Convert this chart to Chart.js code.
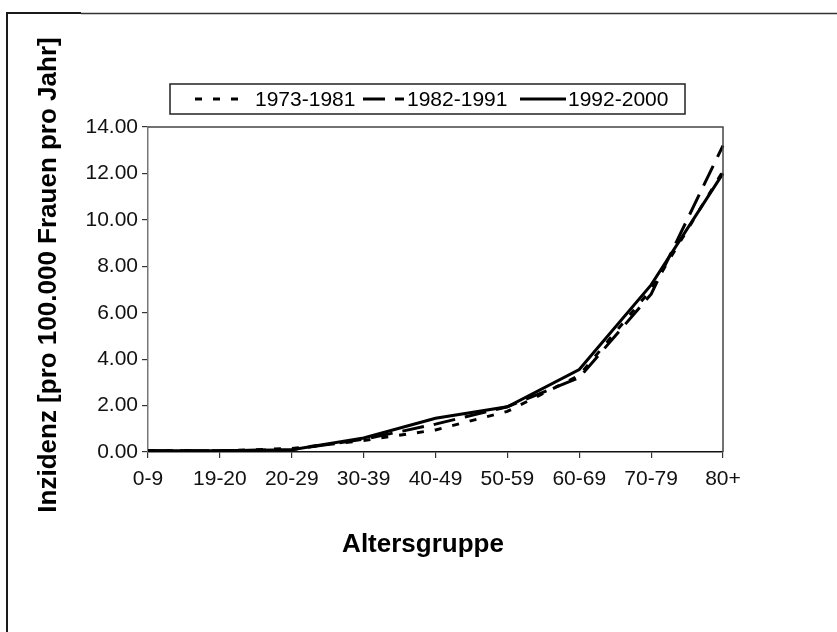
<!DOCTYPE html>
<html>
<head>
<meta charset="utf-8">
<script src="https://cdn.jsdelivr.net/npm/chart.js@4.4.0/dist/chart.umd.min.js"></script>
<style>
  html, body { margin: 0; padding: 0; background: #fff; }
  #wrap { width: 837px; height: 632px; position: relative; }
</style>
</head>
<body>
<div id="wrap"><canvas id="c" width="837" height="632"></canvas></div>
<script>
const categories = ['0-9', '19-20', '20-29', '30-39', '40-49', '50-59', '60-69', '70-79', '80+'];
const series1973 = [0.05, 0.05, 0.15, 0.5, 0.95, 1.75, 3.3, 7.0, 12.1];
const series1982 = [0.05, 0.05, 0.1, 0.55, 1.2, 1.95, 3.2, 6.8, 13.2];
const series1992 = [0.05, 0.05, 0.1, 0.6, 1.45, 1.95, 3.55, 7.2, 12.0];
const seriesLabels = ['1973-1981', '1982-1991', '1992-2000'];
const yTickLabels = ['0.00', '2.00', '4.00', '6.00', '8.00', '10.00', '12.00', '14.00'];
const xTitle = 'Altersgruppe';
const yTitle = 'Inzidenz [pro 100.000 Frauen pro Jahr]';

const FONT = "'Liberation Sans', Arial, sans-serif";

const decorPlugin = {
  id: 'decor',
  afterDraw(chart) {
    const ctx = chart.ctx;
    const a = chart.chartArea;
    ctx.save();
    // outer frame (left + top)
    ctx.strokeStyle = '#1a1a1a';
    ctx.lineWidth = 2;
    ctx.beginPath();
    ctx.moveTo(7, 632);
    ctx.lineTo(7, 13);
    ctx.lineTo(81, 13);
    ctx.stroke();
    ctx.lineWidth = 1.6;
    ctx.strokeStyle = '#333';
    ctx.beginPath();
    ctx.moveTo(81, 13.5);
    ctx.lineTo(837, 13.5);
    ctx.stroke();

    // plot frame top + right
    ctx.strokeStyle = '#444';
    ctx.lineWidth = 1.5;
    ctx.beginPath();
    ctx.moveTo(a.left, a.top);
    ctx.lineTo(a.right, a.top);
    ctx.lineTo(a.right, a.bottom);
    ctx.stroke();

    // legend
    ctx.strokeStyle = '#222';
    ctx.lineWidth = 1.5;
    ctx.strokeRect(170, 84, 515, 30);
    const items = [
      { s0: 195, s1: 243, tx: 255 },
      { s0: 363, s1: 404, tx: 407 },
      { s0: 520, s1: 566, tx: 568 }
    ];
    ctx.font = '21px ' + FONT;
    ctx.textBaseline = 'middle';
    ctx.textAlign = 'left';
    chart.data.datasets.forEach((ds, i) => {
      const it = items[i];
      ctx.save();
      ctx.strokeStyle = ds.borderColor;
      ctx.lineWidth = 3;
      ctx.setLineDash(ds.borderDash || []);
      ctx.beginPath();
      ctx.moveTo(it.s0, 99);
      ctx.lineTo(it.s1, 99);
      ctx.stroke();
      ctx.restore();
      ctx.fillStyle = '#000';
      ctx.fillText(ds.label, it.tx, 100);
    });

    // axis titles
    ctx.fillStyle = '#000';
    ctx.font = 'bold 26px ' + FONT;
    ctx.textAlign = 'center';
    ctx.textBaseline = 'alphabetic';
    ctx.fillText(xTitle, 423, 552);
    ctx.save();
    ctx.translate(56, 275);
    ctx.rotate(-Math.PI / 2);
    ctx.fillText(yTitle, 0, 0);
    ctx.restore();
    ctx.restore();
  }
};

new Chart(document.getElementById('c'), {
  type: 'line',
  data: {
    labels: categories,
    datasets: [
      { label: seriesLabels[0], data: series1973, borderColor: '#000', borderWidth: 3, borderDash: [7, 11], pointRadius: 0, tension: 0, fill: false },
      { label: seriesLabels[1], data: series1982, borderColor: '#000', borderWidth: 3, borderDash: [22, 10], pointRadius: 0, tension: 0, fill: false },
      { label: seriesLabels[2], data: series1992, borderColor: '#000', borderWidth: 3, pointRadius: 0, tension: 0, fill: false }
    ]
  },
  options: {
    responsive: false,
    animation: false,
    devicePixelRatio: 1,
    layout: { padding: { left: 0, right: 114, top: 127, bottom: 0 } },
    plugins: { legend: { display: false }, title: { display: false }, tooltip: { enabled: false } },
    scales: {
      x: {
        type: 'category',
        offset: false,
        afterFit(scale) { scale.height = 180; },
        grid: { display: true, drawOnChartArea: false, drawTicks: true, tickLength: 6, color: '#333', lineWidth: 1.2 },
        border: { display: true, color: '#111', width: 1.5 },
        ticks: { color: '#111', font: { family: FONT, size: 21 }, padding: 9, maxRotation: 0, autoSkip: false },
        title: { display: false }
      },
      y: {
        min: 0,
        max: 14,
        afterFit(scale) { scale.width = 148; },
        grid: { display: true, drawOnChartArea: false, drawTicks: true, tickLength: 6, color: '#333', lineWidth: 1.2 },
        border: { display: true, color: '#777', width: 1.5 },
        ticks: {
          stepSize: 2,
          color: '#111',
          font: { family: FONT, size: 21 },
          padding: 4,
          callback: (v, i) => yTickLabels[i]
        },
        title: { display: false }
      }
    }
  },
  plugins: [decorPlugin]
});
</script>
</body>
</html>
